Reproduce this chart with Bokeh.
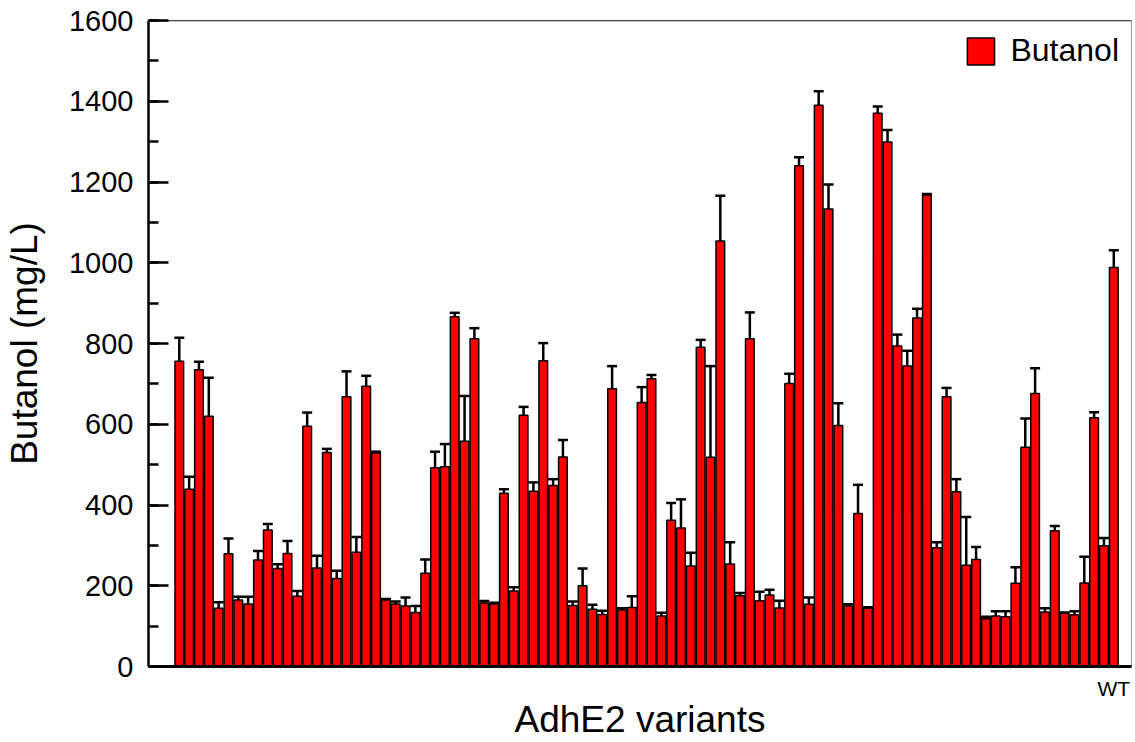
from bokeh.plotting import figure
from bokeh.models import (ColumnDataSource, Whisker, TeeHead, SingleIntervalTicker,
                          FixedTicker, Range1d, Span)
from bokeh.embed import file_html
from bokeh.resources import INLINE

# Butanol titre (mg/L) for each AdhE2 variant, last one is wild type
butanol = [756, 439, 735, 620, 144, 279, 165, 155, 264, 338, 243, 280, 174, 595, 244, 530,
           218, 668, 283, 694, 529, 165, 155, 150, 134, 231, 492, 495, 866, 558, 812, 157,
           155, 429, 187, 622, 434, 757, 448, 519, 151, 200, 142, 129, 688, 140, 146, 654,
           713, 125, 362, 343, 249, 791, 518, 1054, 254, 175, 812, 163, 177, 145, 701, 1240,
           154, 1390, 1133, 597, 150, 379, 144, 1370, 1299, 794, 744, 863, 1168, 294, 668, 433,
           251, 265, 118, 125, 123, 206, 543, 676, 135, 336, 133, 128, 207, 616, 299, 988]
# upper error bar ends (mg/L)
err_top = [814, 470, 755, 715, 159, 317, 173, 173, 286, 353, 253, 311, 187, 629, 274, 539,
           237, 731, 321, 720, 532, 167, 161, 171, 150, 265, 532, 551, 876, 670, 838, 162,
           158, 439, 196, 643, 456, 801, 464, 561, 161, 243, 153, 138, 744, 144, 174, 692,
           722, 133, 405, 414, 282, 809, 744, 1166, 308, 182, 877, 185, 190, 163, 725, 1261,
           171, 1425, 1194, 652, 154, 450, 147, 1387, 1329, 822, 782, 886, 1170, 308, 690, 464,
           370, 296, 123, 137, 137, 246, 614, 739, 144, 348, 134, 137, 272, 630, 318, 1031]
variant_index = list(range(1, len(butanol) + 1))
wt_label = {len(butanol): "WT"}

FONT = "Liberation Sans"

src = ColumnDataSource(dict(x=variant_index, val=butanol, hi=err_top))

p = figure(width=1133, height=742, output_backend="svg", toolbar_location=None,
           x_range=Range1d(-2.13, 97.8), y_range=Range1d(0, 1600),
           min_border_left=148, min_border_right=2, min_border_top=20, min_border_bottom=75)

p.background_fill_color = "white"
p.border_fill_color = "white"
p.outline_line_color = "#9a9a9a"
p.outline_line_width = 1
p.xgrid.visible = False
p.ygrid.visible = False

p.vbar(x="x", top="val", width=0.88, bottom=0, source=src, fill_color="#ff0000",
       line_color="black", line_width=1.5, legend_label="Butanol")

wh = Whisker(base="x", upper="hi", lower="val", source=src,
             upper_head=TeeHead(size=10, line_width=2.5, line_color="black"),
             lower_head=None, line_width=2.5, line_color="black", level="overlay")
p.add_layout(wh)

p.add_layout(Span(location=1600, dimension="width", line_color="black", line_width=1.5))

# y axis
ya = p.yaxis[0]
ya.ticker = SingleIntervalTicker(interval=200, num_minor_ticks=2)
ya.axis_label = "Butanol (mg/L)"
ya.axis_label_text_font = FONT
ya.axis_label_text_font_size = "37px"
ya.axis_label_text_font_style = "normal"
ya.axis_label_text_color = "black"
ya.axis_label_standoff = 21
ya.major_label_text_font = FONT
ya.major_label_text_font_size = "29px"
ya.major_label_text_color = "black"
ya.major_label_standoff = 15
ya.major_tick_in = 20
ya.major_tick_out = 0
ya.minor_tick_in = 10
ya.minor_tick_out = 0
ya.major_tick_line_width = 2.5
ya.minor_tick_line_width = 2.5
ya.axis_line_width = 2.5
ya.axis_line_color = "black"
ya.major_tick_line_color = "black"
ya.minor_tick_line_color = "black"

# x axis
xa = p.xaxis[0]
xa.ticker = FixedTicker(ticks=list(wt_label.keys()))
xa.major_label_overrides = wt_label
xa.axis_label = "AdhE2 variants"
xa.axis_label_text_font = FONT
xa.axis_label_text_font_size = "37px"
xa.axis_label_text_font_style = "normal"
xa.axis_label_text_color = "black"
xa.axis_label_standoff = -4
xa.major_label_text_font = FONT
xa.major_label_text_font_size = "21px"
xa.major_label_text_color = "black"
xa.major_label_standoff = 4
xa.major_tick_line_color = None
xa.minor_tick_line_color = None
xa.axis_line_width = 3
xa.axis_line_color = "black"

lg = p.legend[0]
lg.location = "top_right"
lg.margin = 12
lg.padding = 3
lg.border_line_color = None
lg.background_fill_alpha = 0
lg.glyph_width = 34
lg.glyph_height = 34
lg.label_standoff = 13
lg.label_text_font = FONT
lg.label_text_font_size = "32px"
lg.label_text_color = "black"

open("out.html", "w").write(file_html(p, INLINE))
